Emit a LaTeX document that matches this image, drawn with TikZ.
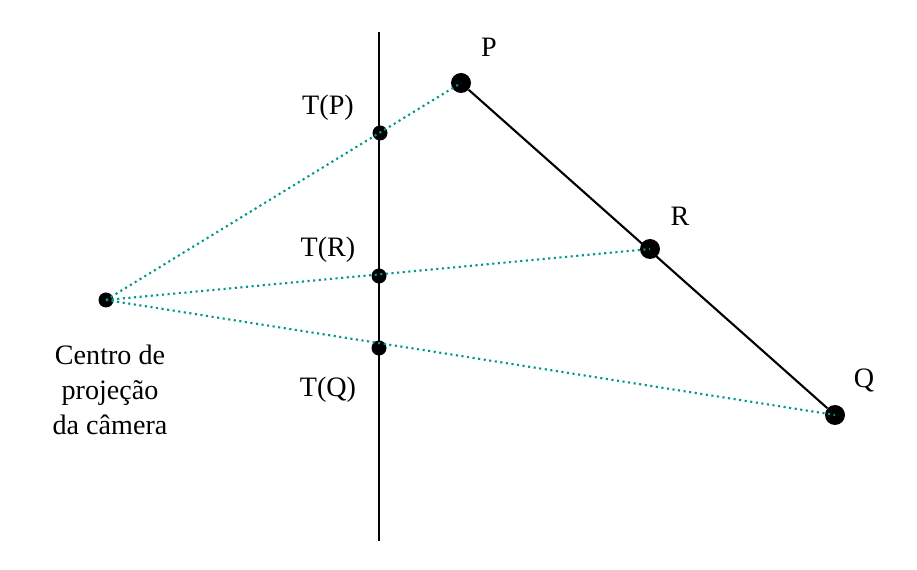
\documentclass[tikz,border=0pt]{standalone}
\usepackage{fontspec}
\setmainfont{Liberation Serif}
\definecolor{raio}{RGB}{0,150,136}
\begin{document}
\begin{tikzpicture}[x=0.02cm,y=-0.02cm,
	every node/.style={font=\fontsize{16}{20}\selectfont},
	ponto/.style={circle,fill=black,inner sep=0pt,minimum size=14\pgflinewidth},
	grande/.style={circle,fill=black,inner sep=0pt,minimum size=0.4cm},
	pequeno/.style={circle,fill=black,inner sep=0pt,minimum size=0.3cm},
	raiolinha/.style={raio,dotted,line width=1.2pt}]
		\useasboundingbox (0,0) rectangle (917,570);
		% plano da imagem
		\coordinate (topo) at (379,32);
		\coordinate (base) at (379,541);
		\draw [line width=1.2pt] (topo) -- (base);
		% pontos
		\node [pequeno] (C) at (106,300) {};
		\node [grande] (P) at (461,83) {};
		\node [grande] (R) at (650,249) {};
		\node [grande] (Q) at (835,415) {};
		\node [pequeno] (TP) at (380,133) {};
		\node [pequeno] (TR) at (379,276) {};
		\node [pequeno] (TQ) at (379,348) {};
		% segmento e raios
		\draw [line width=1.2pt] (P) -- (Q);
		\draw [raiolinha] (C.center) -- (P.center);
		\draw [raiolinha] (C.center) -- (R.center);
		\draw [raiolinha] (C.center) -- (Q.center);
		% textos
		\node at (489,47) {P};
		\node at (680,216) {R};
		\node at (864,380) {Q};
		\node at (328,108) {T(P)};
		\node at (328,250) {T(R)};
		\node at (328,390) {T(Q)};
		\node [align=center] at (110,390) {Centro de\\projeção\\da câmera};
		\end{tikzpicture}
\end{document}
